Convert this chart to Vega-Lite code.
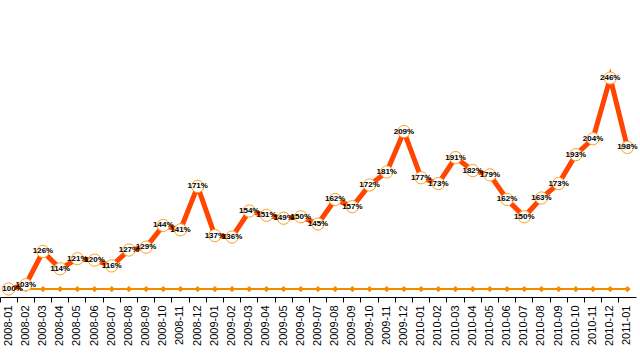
{
  "$schema": "https://vega.github.io/schema/vega-lite/v6.json",
  "width": 636,
  "height": 297,
  "padding": {"left": 0, "top": 0, "right": 4, "bottom": 59},
  "autosize": "none",
  "background": "white",
  "config": {"view": {"stroke": null}},
  "data": {"values": [
    {"month": "2008-01", "value": 1.00, "base": 1},
    {"month": "2008-02", "value": 1.03, "base": 1},
    {"month": "2008-03", "value": 1.26, "base": 1},
    {"month": "2008-04", "value": 1.14, "base": 1},
    {"month": "2008-05", "value": 1.21, "base": 1},
    {"month": "2008-06", "value": 1.20, "base": 1},
    {"month": "2008-07", "value": 1.16, "base": 1},
    {"month": "2008-08", "value": 1.27, "base": 1},
    {"month": "2008-09", "value": 1.29, "base": 1},
    {"month": "2008-10", "value": 1.44, "base": 1},
    {"month": "2008-11", "value": 1.41, "base": 1},
    {"month": "2008-12", "value": 1.71, "base": 1},
    {"month": "2009-01", "value": 1.37, "base": 1},
    {"month": "2009-02", "value": 1.36, "base": 1},
    {"month": "2009-03", "value": 1.54, "base": 1},
    {"month": "2009-04", "value": 1.51, "base": 1},
    {"month": "2009-05", "value": 1.49, "base": 1},
    {"month": "2009-06", "value": 1.50, "base": 1},
    {"month": "2009-07", "value": 1.45, "base": 1},
    {"month": "2009-08", "value": 1.62, "base": 1},
    {"month": "2009-09", "value": 1.57, "base": 1},
    {"month": "2009-10", "value": 1.72, "base": 1},
    {"month": "2009-11", "value": 1.81, "base": 1},
    {"month": "2009-12", "value": 2.09, "base": 1},
    {"month": "2010-01", "value": 1.77, "base": 1},
    {"month": "2010-02", "value": 1.73, "base": 1},
    {"month": "2010-03", "value": 1.91, "base": 1},
    {"month": "2010-04", "value": 1.82, "base": 1},
    {"month": "2010-05", "value": 1.79, "base": 1},
    {"month": "2010-06", "value": 1.62, "base": 1},
    {"month": "2010-07", "value": 1.50, "base": 1},
    {"month": "2010-08", "value": 1.63, "base": 1},
    {"month": "2010-09", "value": 1.73, "base": 1},
    {"month": "2010-10", "value": 1.93, "base": 1},
    {"month": "2010-11", "value": 2.04, "base": 1},
    {"month": "2010-12", "value": 2.46, "base": 1},
    {"month": "2011-01", "value": 1.98, "base": 1}
  ]},
  "encoding": {
    "x": {
      "field": "month", "type": "ordinal", "sort": null,
      "scale": {"type": "band", "paddingInner": 0, "paddingOuter": 0},
      "axis": {
        "title": null, "labelAngle": -90, "labelFont": "Liberation Sans", "labelFontSize": 11,
        "labelColor": "#000", "domainColor": "#000", "tickColor": "#000", "tickSize": 5,
        "bandPosition": 0, "labelPadding": 3, "labelAlign": "right", "labelBaseline": "middle"
      }
    }
  },
  "layer": [
    {
      "mark": {"type": "line", "color": "#f08c00", "strokeWidth": 2},
      "encoding": {"y": {"field": "base", "type": "quantitative", "scale": {"domain": [0.945, 3.0], "nice": false, "zero": false}, "axis": null}}
    },
    {
      "mark": {"type": "point", "shape": "diamond", "filled": true, "color": "#f08c00", "size": 40, "opacity": 1},
      "encoding": {"y": {"field": "base", "type": "quantitative"}}
    },
    {
      "mark": {"type": "line", "color": "#ff4500", "strokeWidth": 5},
      "encoding": {"y": {"field": "value", "type": "quantitative"}}
    },
    {
      "mark": {"type": "point", "shape": "circle", "filled": true, "fill": "white", "stroke": "#ffa020", "strokeWidth": 1, "size": 150, "opacity": 1},
      "encoding": {"y": {"field": "value", "type": "quantitative"}}
    },
    {
      "transform": [{"filter": "datum.month != '2008-01'"}],
      "mark": {"type": "text", "font": "Liberation Sans", "fontSize": 8, "fontWeight": "bold", "color": "#000", "align": "center", "baseline": "middle"},
      "encoding": {
        "y": {"field": "value", "type": "quantitative"},
        "text": {"field": "value", "type": "quantitative", "format": ".0%"}
      }
    },
    {
      "transform": [{"filter": "datum.month == '2008-01'"}],
      "mark": {"type": "text", "font": "Liberation Sans", "fontSize": 8, "fontWeight": "bold", "color": "#000", "align": "center", "baseline": "middle", "dx": 4},
      "encoding": {
        "y": {"field": "value", "type": "quantitative"},
        "text": {"field": "value", "type": "quantitative", "format": ".0%"}
      }
    }
  ],
  "resolve": {"scale": {"y": "shared"}}
}
